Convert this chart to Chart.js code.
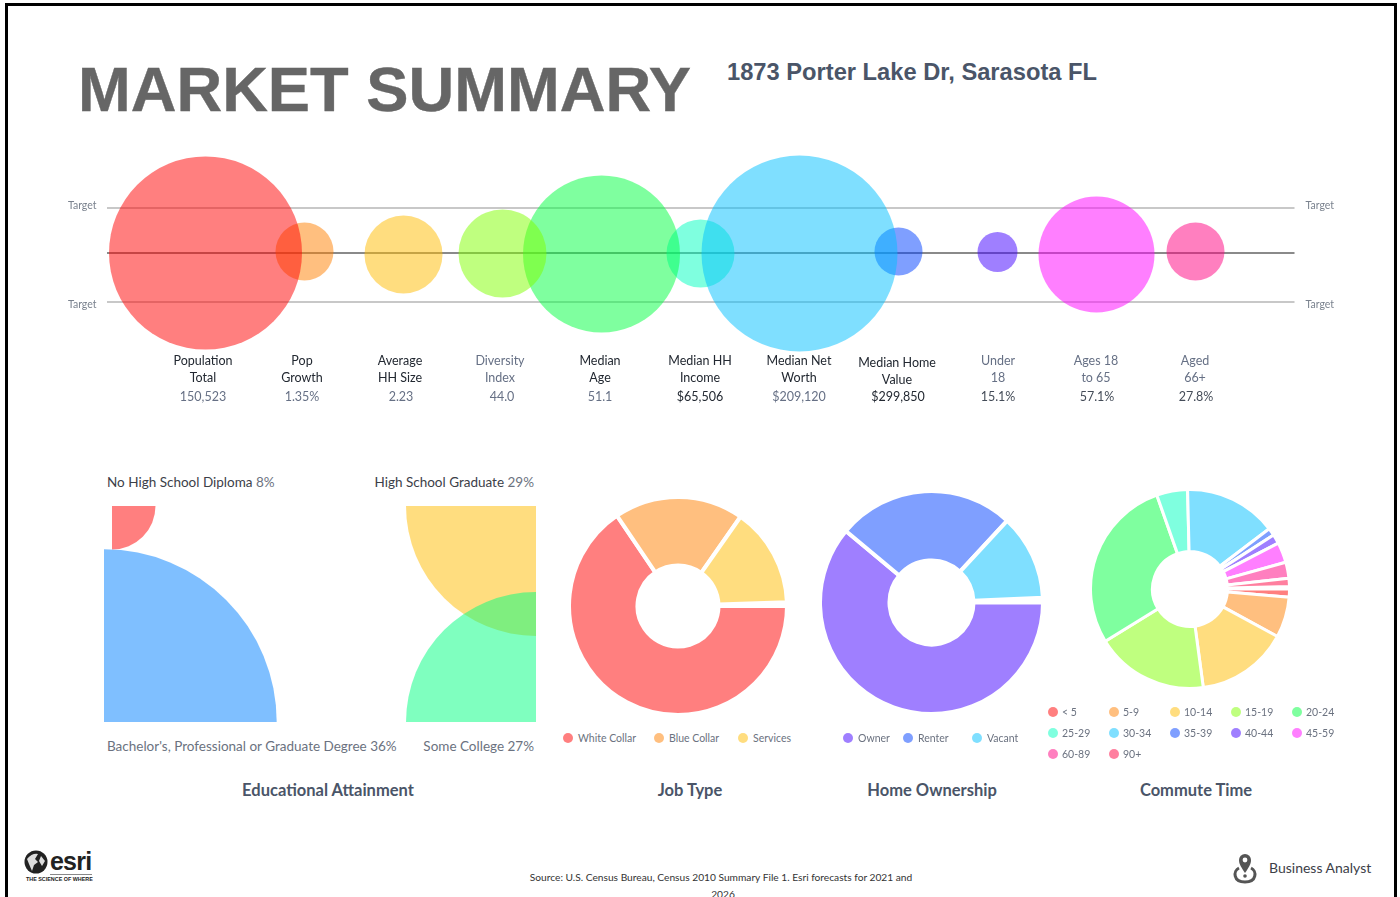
<!DOCTYPE html>
<html>
<head>
<meta charset="utf-8">
<title>Market Summary</title>
<script src="https://cdn.jsdelivr.net/npm/chart.js@4"></script>
<style>
    html, body { margin: 0; padding: 0; background: #fff; }
    body { position: relative; width: 1400px; height: 897px; overflow: hidden; font-family: Lato, sans-serif; }
    canvas, .txt, .legend, svg, .frame { position: absolute; }
    .frame { left: 5px; top: 3px; width: 1392px; height: 920px; border: 3px solid #000; box-sizing: border-box; }
    .txt { white-space: nowrap; line-height: 1; }
    .title { left: 78px; top: 58px; font: bold 63.3px/1 "Liberation Sans", sans-serif; color: #666; -webkit-text-stroke: 0.4px #666; }
    .address { left: 727px; top: 61px; font: bold 23.7px/1 "Liberation Sans", sans-serif; color: #4a5568; }
    .edu { font-size: 13.5px; color: #3c4048; }
    .edu b { font-weight: 400; color: #6b7280; }
    .edu.soft { color: #6b7280; }
    .heading { font-size: 16.5px; font-weight: 700; color: #4a5568; transform: translateX(-50%); }
    .legend { display: grid; font-size: 10.5px; color: #6b7280; line-height: 12px; }
    .legend.wide { grid-template-columns: repeat(5, 61px); row-gap: 9px; }
    .legend span.item { display: flex; align-items: center; }
    .legend i { width: 10px; height: 10px; border-radius: 50%; margin-right: 5px; flex: none; }
    .legend.wide i { margin-right: 4px; }
    .source { font-size: 10.2px; color: #333; transform: translateX(-50%); }
</style>
</head>
<body>
<div class="frame"></div>
<div class="txt title">MARKET SUMMARY</div>
<div class="txt address">1873 Porter Lake Dr, Sarasota FL</div>

<canvas id="metrics" width="1400" height="270" style="left:0;top:138px"></canvas>

<div class="txt edu" style="left:107px;top:476px">No High School Diploma <b>8%</b></div>
<div class="txt edu" style="right:866px;top:476px">High School Graduate <b>29%</b></div>
<canvas id="education" width="432" height="216" style="left:104px;top:506px"></canvas>
<div class="txt edu soft" style="left:107px;top:740px">Bachelor's, Professional or Graduate Degree 36%</div>
<div class="txt edu soft" style="right:866px;top:740px">Some College 27%</div>

<canvas id="jobType" width="222" height="222" style="left:567px;top:495px"></canvas>
<canvas id="homeOwnership" width="227" height="227" style="left:818px;top:489px"></canvas>
<canvas id="commuteTime" width="202" height="202" style="left:1089px;top:488px"></canvas>

<div class="legend" id="jobLegend" style="left:563px;top:732px;grid-template-columns:91px 84px auto"></div>
<div class="legend" id="homeLegend" style="left:843px;top:732px;grid-template-columns:60px 69px auto"></div>
<div class="legend wide" id="commuteLegend" style="left:1048px;top:706px"></div>

<div class="txt heading" style="left:328px;top:782px">Educational Attainment</div>
<div class="txt heading" style="left:690px;top:782px">Job Type</div>
<div class="txt heading" style="left:932px;top:782px">Home Ownership</div>
<div class="txt heading" style="left:1196px;top:782px">Commute Time</div>

<svg style="left:24px;top:850px" width="26" height="26" viewBox="0 0 26 26">
    <circle cx="12" cy="12" r="11.5" fill="#222"/>
    <path d="M3 9 Q8 3 14 4 L11 9 L14 12 L10 15 L8 21 L5 14 Z" fill="#ddd"/>
    <path d="M17 6 L21 11 L18 16 L15 11 Z" fill="#ddd"/>
</svg>
<div class="txt" style="left:50px;top:849px;font:bold 25px/1 'Liberation Sans';letter-spacing:-0.8px;color:#222">esri</div>
<div style="position:absolute;left:50px;top:874px;width:42px;height:1px;background:#888"></div>
<div class="txt" style="left:26px;top:877px;font:bold 5.4px/1 'Liberation Sans';color:#222">THE SCIENCE OF WHERE</div>

<div class="txt source" style="left:721px;top:872px">Source: U.S. Census Bureau, Census 2010 Summary File 1. Esri forecasts for 2021 and</div>
<div class="txt source" style="left:723px;top:889px">2026</div>

<svg style="left:1231px;top:852px" width="30" height="34" viewBox="0 0 30 34">
    <path d="M8 16 C2 19 2 30 14 30 C26 30 26 19 20 16" fill="none" stroke="#555" stroke-width="3"/>
    <path d="M14 21 C10 15 8 12 8 8 A6 6 0 0 1 20 8 C20 12 18 15 14 21 Z" fill="#555"/>
    <circle cx="14" cy="8" r="2.4" fill="#fff"/>
    <circle cx="14" cy="24" r="1.8" fill="#555"/>
</svg>
<div class="txt" style="left:1269px;top:861px;font-size:14px;color:#3c4048">Business Analyst</div>

<script>
// top row
const metricNames = [
    ["Population", "Total"], ["Pop", "Growth"], ["Average", "HH Size"], ["Diversity", "Index"],
    ["Median", "Age"], ["Median HH", "Income"], ["Median Net", "Worth"], ["Median Home", "Value"],
    ["Under", "18"], ["Ages 18", "to 65"], ["Aged", "66+"],
];
const metricValues = ["150,523", "1.35%", "2.23", "44.0", "51.1", "$65,506", "$209,120", "$299,850", "15.1%", "57.1%", "27.8%"];
const metricSizes = [96.5, 29, 39, 44, 78.5, 34, 98, 24, 20, 58, 29];
const metricOffsets = [-0.5, 1, -2, -1, -1.5, -1, -1, 1, 0.5, -2, 1];
const targetLevels = [45, 0, -50];

// education
const eduCorners = [[1.85, 100], [0, 0], [100, 100], [100, 0]];
const eduSizes = [43.5, 172.7, 130, 130];

const jobLabels = ["White Collar", "Blue Collar", "Services"];
const jobValues = [65.9, 19.3, 14.8];

const homeLabels = ["Owner", "Renter", "Vacant"];
const homeValues = [61.5, 26.0, 12.5];

const commuteLabels = ["< 5", "5-9", "10-14", "15-19", "20-24", "25-29", "30-34", "35-39", "40-44", "45-59", "60-89", "90+"];
const commuteValues = [1.3, 6.6, 14.9, 18.3, 28.3, 5.0, 15.0, 1.2, 1.5, 3.3, 2.6, 1.3];

const RED = "rgba(255, 0, 0, 0.5)";
const ORANGE = "rgba(255, 128, 0, 0.5)";
const YELLOW = "rgba(255, 187, 0, 0.5)";
const LIME = "rgba(128, 255, 0, 0.5)";
const GREEN = "rgba(0, 255, 64, 0.5)";
const TEAL = "rgba(0, 255, 191, 0.5)";
const SKY = "rgba(0, 191, 255, 0.5)";
const BLUE = "rgba(0, 64, 255, 0.5)";
const PURPLE = "rgba(64, 0, 255, 0.5)";
const MAGENTA = "rgba(255, 0, 255, 0.5)";
const PINK = "rgba(255, 0, 128, 0.5)";
const ROSE = "rgba(255, 0, 64, 0.5)";

const DARK = "#222831";
const SOFT = "#667085";
const metricColors = [RED, ORANGE, YELLOW, LIME, GREEN, TEAL, SKY, BLUE, PURPLE, MAGENTA, PINK];
const nameInk = [DARK, DARK, DARK, SOFT, DARK, DARK, DARK, DARK, SOFT, SOFT, SOFT];
const valueInk = [SOFT, SOFT, SOFT, SOFT, SOFT, DARK, SOFT, DARK, "#444c58", "#444c58", "#444c58"];
const nameShift = [-2.5, -2.5, -3.5, -2.5, -1.5, -0.5, -0.5, -1.5, 0.5, -0.5, -0.5];
const valueShift = [-2.5, -2.5, -2.5, -0.5, -1.5, -0.5, -0.5, -0.5, 0.5, 0.5, 0.5];

Chart.defaults.animation = false;
Chart.defaults.font.family = "Lato, sans-serif";

// names and values under each bubble, hung off the x scale
const metricLabels = {
    id: "metricLabels",
    afterDraw(chart) {
        const { ctx, chartArea, scales } = chart;
        ctx.save();
        ctx.textAlign = "center";
        ctx.textBaseline = "middle";
        ctx.font = "12.5px Lato, sans-serif";
        metricNames.forEach((lines, i) => {
            const x = scales.x.getPixelForValue(i);
            const drop = i === 7 ? 2 : 0;
            ctx.fillStyle = nameInk[i];
            ctx.fillText(lines[0], x + nameShift[i], chartArea.bottom + 9 + drop);
            ctx.fillText(lines[1], x + nameShift[i], chartArea.bottom + 26 + drop);
            ctx.fillStyle = valueInk[i];
            ctx.fillText(metricValues[i], x + valueShift[i], chartArea.bottom + 45);
        });
        ctx.restore();
    },
};

const targetAxis = (position, width, pad) => ({
    position,
    min: -100,
    max: 100,
    afterBuildTicks: (scale) => { scale.ticks = targetLevels.map((value) => ({ value })); },
    afterFit: (scale) => { scale.width = width; },
    ticks: {
        padding: pad,
        color: "#7a828e",
        // a blank second line nudges the label off its rule
        font: { size: 10.5, lineHeight: "4px" },
        callback: (value) => {
            if (value === 0)
                return "";
            return value > 0 ? ["Target", ""] : ["", "Target"];
        },
    },
    grid: {
        drawOnChartArea: position === "left",
        drawTicks: false,
        lineWidth: 2,
        color: (ctx) => (ctx.tick && ctx.tick.value === 0 ? "#8a8a8a" : "#c8c8c8"),
    },
    border: { display: false },
});

new Chart(document.getElementById("metrics"), {
    type: "bubble",
    data: {
        // one dataset per bubble: earlier ones paint on top, sky lies over its neighbours
        datasets: metricSizes.map((r, i) => ({
            data: [{ x: i, y: metricOffsets[i], r }],
            backgroundColor: metricColors[i],
            borderWidth: 0,
            clip: false,
            order: metricColors[i] === SKY ? -1 : 0,
        })),
    },
    options: {
        responsive: false,
        layout: { autoPadding: false, padding: { top: 10, bottom: 56 } },
        plugins: { legend: { display: false }, tooltip: { enabled: false } },
        scales: {
            x: { min: -1, max: 11, display: false },
            y: targetAxis("left", 106.5, 10),
            y2: targetAxis("right", 105.5, 11),
        },
    },
    plugins: [metricLabels],
});

// each group is a bubble pinned on a corner of the plot, clipped by the plot
const eduColors = [RED, "rgba(0, 128, 255, 0.5)", YELLOW, "rgba(0, 255, 128, 0.5)"];
new Chart(document.getElementById("education"), {
    type: "bubble",
    data: {
        datasets: eduSizes.map((r, i) => ({
            data: [{ x: eduCorners[i][0], y: eduCorners[i][1], r }],
            backgroundColor: eduColors[i],
            borderWidth: 0,
            clip: i === 0 ? { left: -8, top: 0, right: 0, bottom: 0 } : 0,
            order: 3 - i,
        })),
    },
    options: {
        responsive: false,
        layout: { autoPadding: false },
        plugins: { legend: { display: false }, tooltip: { enabled: false } },
        scales: {
            x: { min: 0, max: 100, display: false },
            y: { min: 0, max: 100, display: false },
        },
    },
});

function drawRing(id, labels, values, colors, sweep, hole, stroke) {
    new Chart(document.getElementById(id), {
        type: "doughnut",
        data: {
            labels,
            datasets: [{ data: values, backgroundColor: colors, borderColor: "#fff", borderWidth: stroke }],
        },
        options: {
            responsive: false,
            rotation: 90,
            circumference: sweep,
            cutout: hole,
            plugins: { legend: { display: false }, tooltip: { enabled: false } },
        },
    });
}

function fillLegend(id, labels, colors) {
    const box = document.getElementById(id);
    labels.forEach((label, i) => {
        const item = document.createElement("span");
        item.className = "item";
        const dot = document.createElement("i");
        dot.style.background = colors[i];
        item.appendChild(dot);
        item.appendChild(document.createTextNode(label));
        box.appendChild(item);
    });
}

const jobColors = [RED, ORANGE, YELLOW];
const homeColors = [PURPLE, BLUE, SKY];
const commuteColors = [RED, ORANGE, YELLOW, LIME, GREEN, TEAL, SKY, BLUE, PURPLE, MAGENTA, PINK, ROSE];

drawRing("jobType", jobLabels, jobValues, jobColors, 358, 40.5, 4);
drawRing("homeOwnership", homeLabels, homeValues, homeColors, 357.5, 42, 4);
drawRing("commuteTime", commuteLabels, commuteValues, commuteColors, 358.5, 37.5, 3);

fillLegend("jobLegend", jobLabels, jobColors);
fillLegend("homeLegend", homeLabels, homeColors);
fillLegend("commuteLegend", commuteLabels, commuteColors);
</script>
</body>
</html>
